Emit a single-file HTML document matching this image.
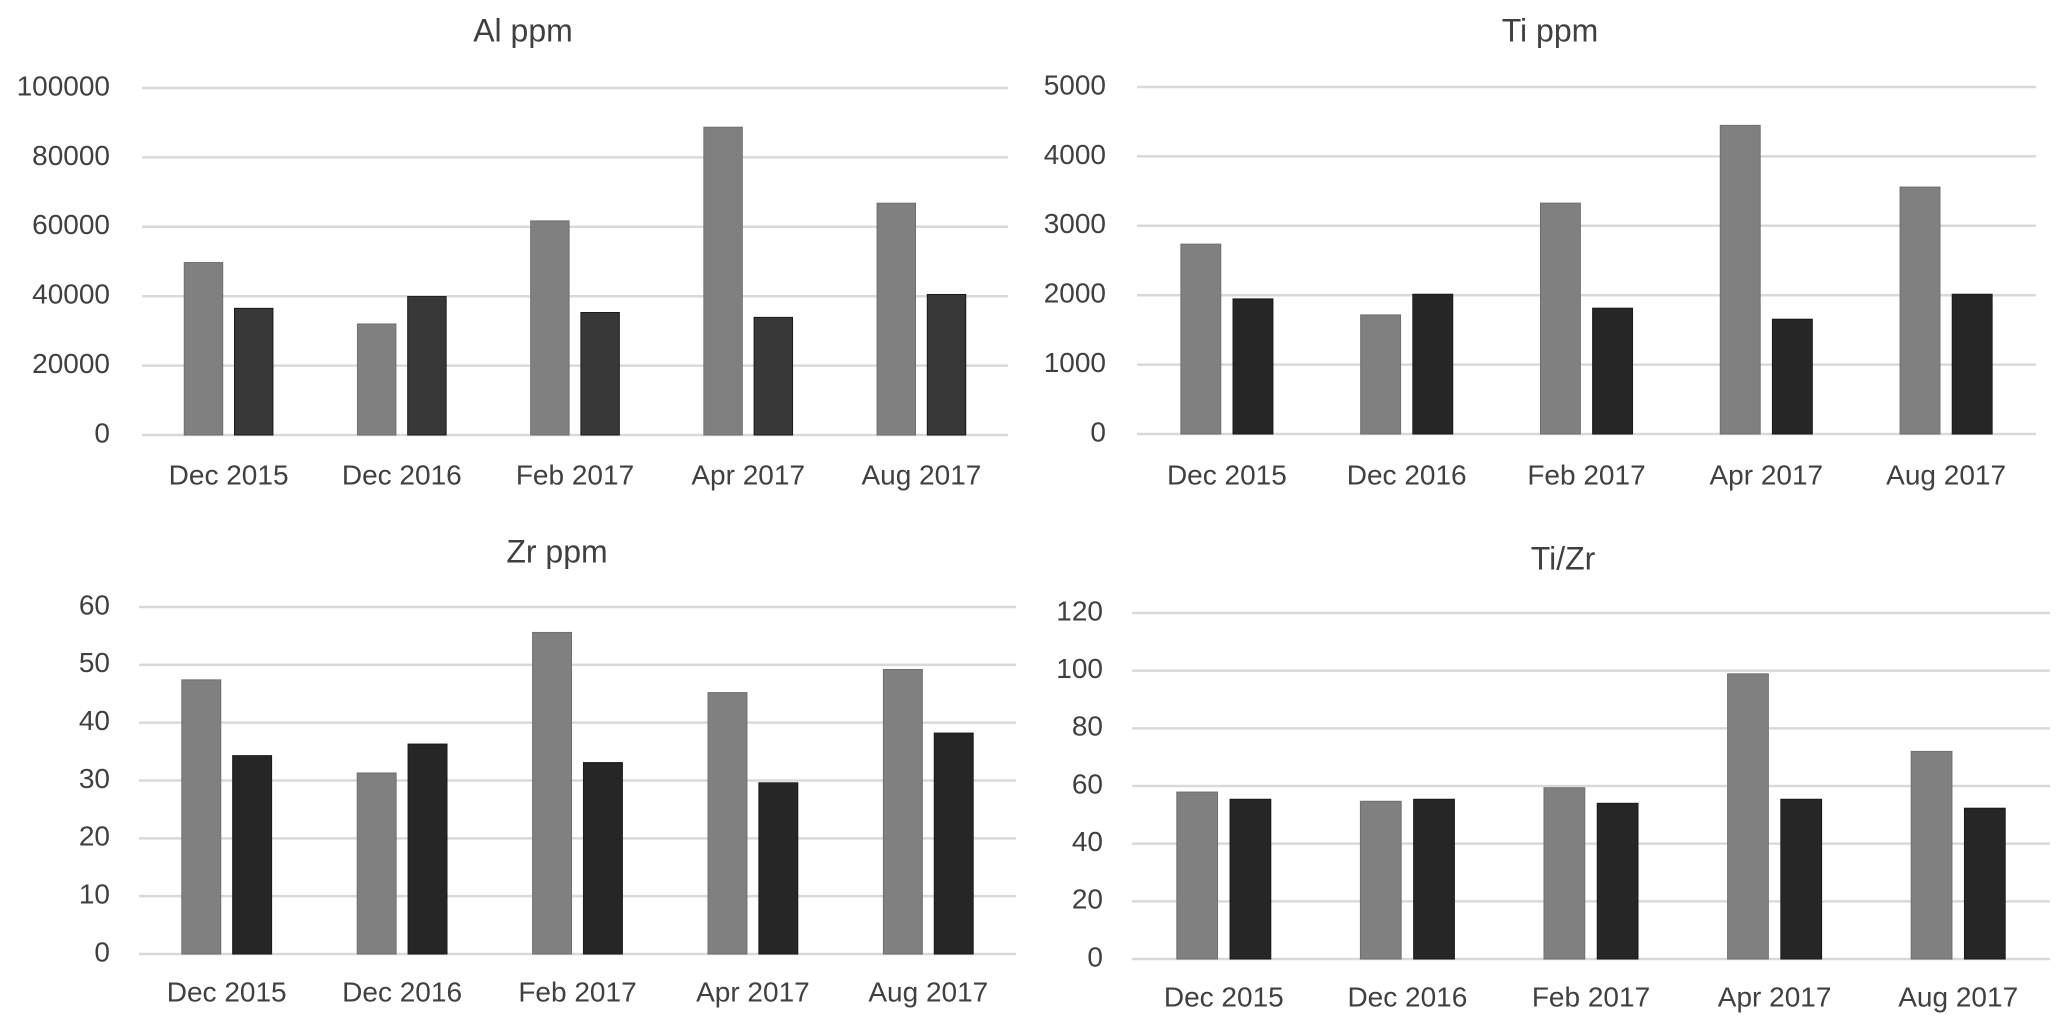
<!DOCTYPE html>
<html><head><meta charset="utf-8"><style>
html,body{margin:0;padding:0;background:#fff;}
svg{display:block;font-family:"Liberation Sans",Arial,sans-serif;}
</style></head><body>
<svg id="c" width="2067" height="1033" viewBox="0 0 2067 1033"></svg>
<script>
const categories = ["Dec 2015","Dec 2016","Feb 2017","Apr 2017","Aug 2017"];
const alGrey = [49700,32000,61700,88700,66800];
const alDark = [36500,39900,35300,33900,40500];
const alTicks = [0,20000,40000,60000,80000,100000];
const tiGrey = [2736,1716,3327,4447,3558];
const tiDark = [1947,2014,1813,1654,2014];
const tiTicks = [0,1000,2000,3000,4000,5000];
const zrGrey = [47.4,31.3,55.6,45.2,49.2];
const zrDark = [34.3,36.3,33.1,29.6,38.2];
const zrTicks = [0,10,20,30,40,50,60];
const tzGrey = [57.9,54.7,59.4,98.9,72.0];
const tzDark = [55.4,55.4,54.0,55.4,52.3];
const tzTicks = [0,20,40,60,80,100,120];

const NS="http://www.w3.org/2000/svg";
const svg=document.getElementById('c');
function mk(tag,attrs,parent){const e=document.createElementNS(NS,tag);for(const k in attrs)e.setAttribute(k,attrs[k]);(parent||svg).appendChild(e);return e;}

function chart(name,title,grey,dark,ticks,L,R,Y0,YT,titleX,titleY,labelY,tickR,darkColor){
  const g=mk('g',{});
  
  
  const maxV=ticks[ticks.length-1];
  const y=v=>Y0-(v/maxV)*(Y0-YT);
  const cw=(R-L)/categories.length;
  const x=i=>L+cw*(i+0.5);
  const t=mk('text',{x:titleX,y:titleY,'text-anchor':'middle','dominant-baseline':'middle','font-size':32,fill:'#404040'},g);
  t.textContent=title;
  
  
  ticks.forEach(v=>{
    const ln=mk('line',{x1:L,x2:R,y1:y(v),y2:y(v),stroke:'#d9d9d9','stroke-width':2.5},g);
    
    
    const tl=mk('text',{x:tickR,y:y(v),'text-anchor':'end','dominant-baseline':'middle','font-size':28,fill:'#404040'},g);
    tl.textContent=v;
    
    
  });
  const bw=cw*0.222, gap=cw*0.068;
  categories.forEach((c,i)=>{
    const cx=x(i);
    const b1=mk('rect',{x:cx-gap/2-bw,y:y(grey[i]),width:bw,height:Y0-y(grey[i]),fill:'#808080',stroke:'#6f6f6f','stroke-width':1},g);
    
    
    const b2=mk('rect',{x:cx+gap/2,y:y(dark[i]),width:bw,height:Y0-y(dark[i]),fill:darkColor,stroke:'#1a1a1a','stroke-width':1},g);
    
    
    const cl=mk('text',{x:cx,y:labelY,'text-anchor':'middle','dominant-baseline':'middle','font-size':28,fill:'#404040'},g);
    cl.textContent=c;
    
    
  });
}
chart('al-chart','Al ppm',alGrey,alDark,alTicks,142,1008,435,88,523,33,477,110,'#383838');
chart('ti-chart','Ti ppm',tiGrey,tiDark,tiTicks,1137,2036,434,87,1550,33,477,1106,'#262626');
chart('zr-chart','Zr ppm',zrGrey,zrDark,zrTicks,139,1016,954,607,557,554,994,110,'#262626');
chart('tizr-chart','Ti/Zr',tzGrey,tzDark,tzTicks,1132,2050,959,613,1563,561,999,1103,'#262626');
</script>
</body></html>
